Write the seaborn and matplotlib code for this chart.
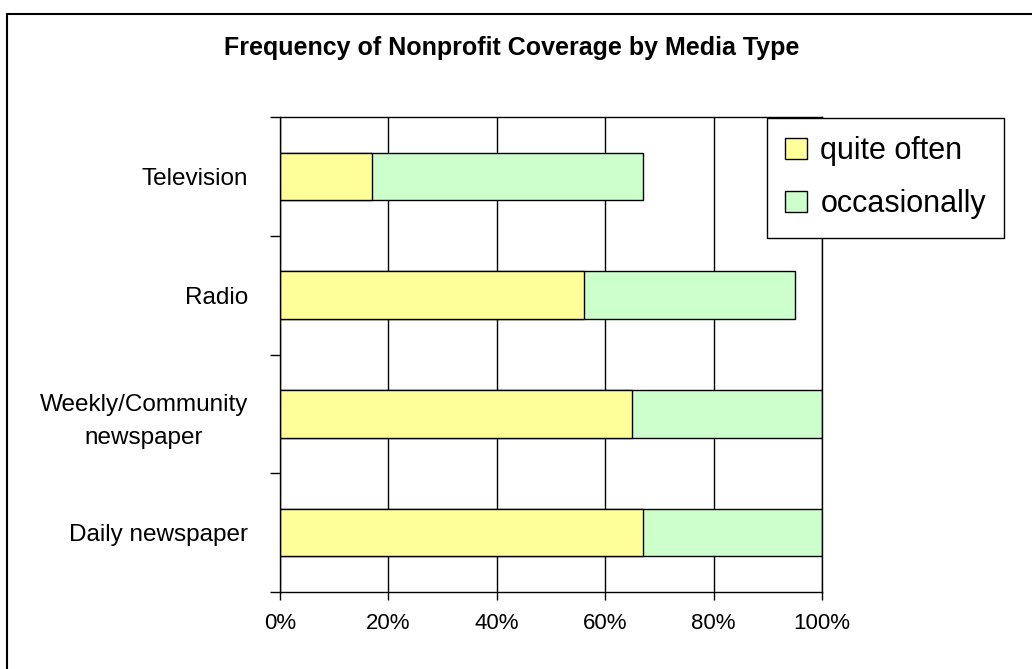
import matplotlib
matplotlib.use("Agg")
import matplotlib.pyplot as plt
import matplotlib.patches as mpatches
import seaborn as sns
import pandas as pd

# values (percent of respondents)
media_types = ["Television", "Radio", "Weekly/Community\nnewspaper", "Daily newspaper"]
quite_often = [17, 56, 65, 67]
occasionally = [50, 39, 35, 33]
x_ticks = [0, 20, 40, 60, 80, 100]

yellow = "#FFFF99"
green = "#CCFFCC"

sns.set_theme(style="white")
plt.rcParams["font.family"] = ["Liberation Sans", "DejaVu Sans"]
plt.rcParams["text.color"] = "black"
plt.rcParams["xtick.color"] = "black"
plt.rcParams["ytick.color"] = "black"

df = pd.DataFrame({"media": media_types, "quite often": quite_often, "occasionally": occasionally})
df["total"] = df["quite often"] + df["occasionally"]

fig = plt.figure(figsize=(10.32, 6.69), dpi=100)
ax = fig.add_axes([280 / 1032, 77 / 669, 542 / 1032, 475 / 669])

# gridlines first so bars sit on top
ax.set_axisbelow(True)
ax.grid(axis="x", color="black", linewidth=1)

# stacked bars: draw the total (green) and put the first segment (yellow) on top
sns.barplot(data=df, x="total", y="media", order=media_types, orient="h", color=green,
            edgecolor="black", linewidth=1, width=0.4, saturation=1, ax=ax)
sns.barplot(data=df, x="quite often", y="media", order=media_types, orient="h", color=yellow,
            edgecolor="black", linewidth=1, width=0.4, saturation=1, ax=ax)

ax.set_xlim(0, 100)
ax.set_ylim(3.5, -0.5)
ax.set_xticks(x_ticks)
ax.set_xticklabels([f"{t}%" for t in x_ticks], fontsize=16)
ax.set_xlabel("")
ax.set_ylabel("")

ax.set_yticks(range(len(media_types)))
ax.set_yticklabels(media_types, fontsize=17.5, multialignment="center", linespacing=1.6)
ax.set_yticks([i - 0.5 for i in range(len(media_types) + 1)], minor=True)
ax.tick_params(axis="y", which="major", length=0, pad=23)
ax.tick_params(axis="y", which="minor", length=7, width=1, color="black", direction="out", left=True)
ax.tick_params(axis="x", which="major", length=6, width=1, color="black", direction="out", bottom=True, pad=9)

for side in ["left", "bottom", "top", "right"]:
    ax.spines[side].set_visible(True)
    ax.spines[side].set_color("black")
    ax.spines[side].set_linewidth(1)

fig.text(0.496, 1 - 48 / 669, "Frequency of Nonprofit Coverage by Media Type",
         ha="center", va="center", fontsize=18, fontweight="bold")

handles = [mpatches.Patch(facecolor=yellow, edgecolor="black", label="quite often"),
           mpatches.Patch(facecolor=green, edgecolor="black", label="occasionally")]
leg = fig.legend(handles=handles, loc="upper left", bbox_to_anchor=(767 / 1032, 1 - 118 / 669),
                 fontsize=22, frameon=True, fancybox=False, edgecolor="black", framealpha=1,
                 handlelength=0.7, handleheight=0.7, handletextpad=0.45,
                 labelspacing=0.75, borderpad=0.6, borderaxespad=0)
leg.get_frame().set_linewidth(1)

# outer chart border (right and bottom edges fall outside the image)
fig.patches.append(mpatches.Rectangle((7 / 1032, -0.05), 1.1, 1 - 14 / 669 + 0.05,
                                      transform=fig.transFigure, fill=False,
                                      edgecolor="black", linewidth=1.5))

fig.savefig("out.png", dpi=100)
